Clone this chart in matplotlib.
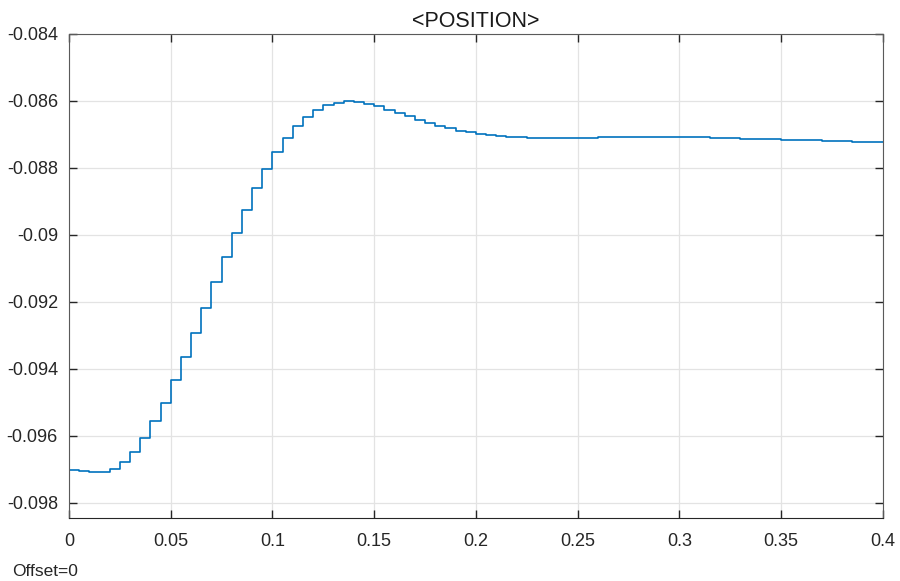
import numpy as np
import matplotlib
matplotlib.use("Agg")
import matplotlib.pyplot as plt
from matplotlib.ticker import FuncFormatter

plt.rcParams['font.family'] = ['Liberation Sans', 'DejaVu Sans']
plt.rcParams['axes.unicode_minus'] = False

# scope samples, held for one sample time each
sample_time = 0.005
position = [
    -0.09702, -0.09705, -0.09710, -0.09710, -0.09700, -0.09679, -0.09648, -0.09607,
    -0.09556, -0.09501, -0.09435, -0.09365, -0.09293, -0.09218, -0.09142, -0.09066,
    -0.08994, -0.08927, -0.08861, -0.08804, -0.08753, -0.08712, -0.08675, -0.08649,
    -0.08628, -0.08613, -0.08606, -0.08601, -0.08602, -0.08610, -0.08616, -0.08627,
    -0.08637, -0.08646, -0.08657, -0.08665, -0.08675, -0.08682, -0.08690, -0.08694,
    -0.08699, -0.08703, -0.08706, -0.08708, -0.08709, -0.08710, -0.08711, -0.08711,
    -0.08711, -0.08711, -0.08710, -0.08710, -0.08709, -0.08708, -0.08708, -0.08707,
    -0.08707, -0.08707, -0.08707, -0.08707, -0.08708, -0.08709, -0.08709, -0.08710,
    -0.08711, -0.08712, -0.08713, -0.08713, -0.08714, -0.08715, -0.08716, -0.08717,
    -0.08718, -0.08718, -0.08719, -0.08720, -0.08721, -0.08722, -0.08722, -0.08723,
    -0.08724,
]
t = np.arange(len(position)) * sample_time

xticks = [0, 0.05, 0.1, 0.15, 0.2, 0.25, 0.3, 0.35, 0.4]
yticks = [-0.098, -0.096, -0.094, -0.092, -0.09, -0.088, -0.086, -0.084]

fig = plt.figure(figsize=(9, 5.81), dpi=100)
ax = fig.add_axes([0.0767, 0.1084, 0.9043, 0.8331])

ax.plot(t, position, drawstyle='steps-post', color='#0072BD', lw=1.2)

ax.set_xlim(0, 0.4)
ax.set_ylim(-0.09846, -0.084)
ax.set_xticks(xticks)
ax.set_yticks(yticks)
fmt = FuncFormatter(lambda v, p: '%g' % round(v, 6))
ax.xaxis.set_major_formatter(fmt)
ax.yaxis.set_major_formatter(fmt)

ax.grid(True, color='#e3e3e3', lw=0.9)
ax.set_axisbelow(True)
ax.tick_params(direction='in', length=6, width=1, top=True, right=True,
               labelsize=13, colors='#262626')
ax.tick_params(axis='x', pad=11)
ax.tick_params(axis='y', pad=8)
for side in ['left', 'right', 'top']:
    ax.spines[side].set_color('#5a5a5a')
ax.spines['bottom'].set_color('#262626')

ax.set_title('<POSITION>', fontsize=15.5, pad=5, color='#1a1a1a')
fig.text(0.013, 0.008, 'Offset=0', fontsize=12.5, color='#262626')

fig.savefig('out.png', dpi=100, facecolor='white')
